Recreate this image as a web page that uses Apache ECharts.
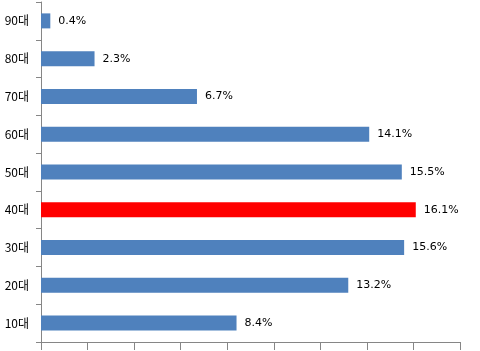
<!DOCTYPE html>
<html><head><meta charset="utf-8">
<script src="https://cdn.jsdelivr.net/npm/echarts@6/dist/echarts.min.js"></script>
<style>html,body{margin:0;padding:0;background:#fff}#c{width:480px;height:351px}</style>
</head><body><div id="c"></div>
<script>
const categories = ['10대','20대','30대','40대','50대','60대','70대','80대','90대'];
const values = [8.4, 13.2, 15.6, 16.1, 15.5, 14.1, 6.7, 2.3, 0.4];
const highlight = '40대';
const chart = echarts.init(document.getElementById('c'));
chart.setOption({
  animation: false,
  grid: {left: 41, top: 2, right: 20, bottom: 9, containLabel: false},
  xAxis: {type: 'value', min: 0, max: 18, interval: 2,
    axisLine: {show: true, lineStyle: {color: '#868686'}},
    axisTick: {show: true, length: 8, lineStyle: {color: '#868686'}},
    axisLabel: {show: false}, splitLine: {show: false}},
  yAxis: {type: 'category', data: categories,
    axisLine: {show: true, lineStyle: {color: '#868686'}},
    axisTick: {show: true, length: 5, lineStyle: {color: '#868686'}},
    axisLabel: {color: '#000', fontSize: 12, margin: 12, fontFamily: 'Noto Sans CJK KR'}},
  series: [{type: 'bar', barWidth: 15,
    data: values.map((v, i) => ({value: v, itemStyle: {color: categories[i] === highlight ? '#ff0000' : '#4f81bd'}})),
    label: {show: true, position: 'right', distance: 8, color: '#000', fontSize: 11, fontFamily: 'DejaVu Sans',
      formatter: p => p.value.toFixed(1) + '%'}}]
});
</script></body></html>
